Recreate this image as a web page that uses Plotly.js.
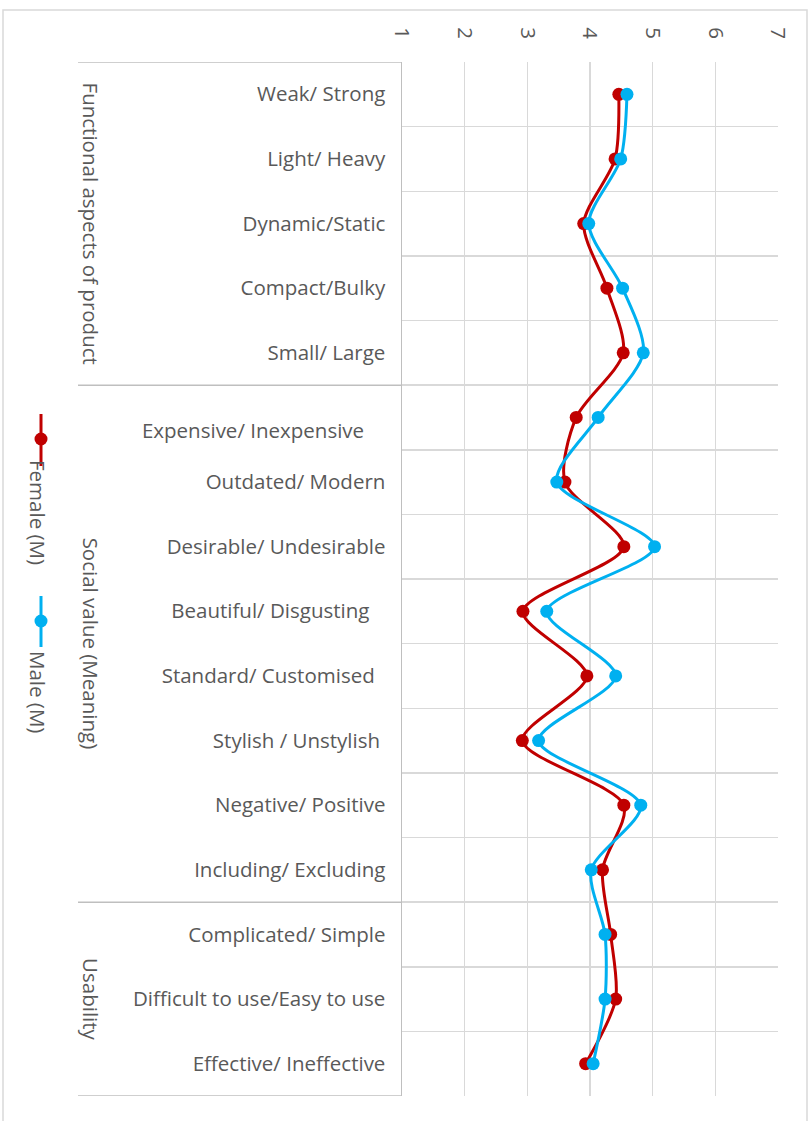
<!DOCTYPE html>
<html>
<head>
<meta charset="utf-8">
<script src="https://cdn.plot.ly/plotly-3.0.1.min.js"></script>
<style>
  html, body { margin: 0; padding: 0; background: #ffffff; }
  #chart { width: 810px; height: 1121px; }
</style>
</head>
<body>
<div id="chart"></div>
<script>
// ---- data ----
var categories = [
  "Weak/ Strong",
  "Light/ Heavy",
  "Dynamic/Static",
  "Compact/Bulky",
  "Small/ Large",
  "Expensive/ Inexpensive",
  "Outdated/ Modern",
  "Desirable/ Undesirable",
  "Beautiful/ Disgusting",
  "Standard/ Customised",
  "Stylish / Unstylish",
  "Negative/ Positive",
  "Including/ Excluding",
  "Complicated/ Simple",
  "Difficult to use/Easy to use",
  "Effective/ Ineffective"
];
var female = [4.46, 4.40, 3.90, 4.27, 4.53, 3.78, 3.60, 4.54, 2.93, 3.95, 2.92, 4.54, 4.20, 4.33, 4.41, 3.93];
var male   = [4.59, 4.49, 3.98, 4.52, 4.85, 4.13, 3.47, 5.03, 3.31, 4.41, 3.18, 4.81, 4.02, 4.24, 4.24, 4.05];
var groupNames = ["Functional aspects of product", "Social value (Meaning)", "Usability"];
var groupSizes = [5, 8, 3];
var xTicks = [1, 2, 3, 4, 5, 6, 7];
var seriesNames = ["Female (M)", "Male (M)"];

// ---- layout helpers (pixel geometry of the page) ----
var W = 810, H = 1121;
var M = {l: 402, r: 32, t: 62, b: 25};
var PW = W - M.l - M.r, PH = H - M.t - M.b;
function px(x) { return (x - M.l) / PW; }
function py(y) { return (H - M.b - y) / PH; }

// label padding as displayed in the original (trailing space / offset)
var tickText = categories.map(function (c) {
  if (c === "Expensive/ Inexpensive") return "<br>" + c + "\u00a0\u00a0\u00a0\u00a0";
  if (c === "Beautiful/ Disgusting") return c + "\u00a0\u00a0\u00a0";
  if (c === "Standard/ Customised") return c + "\u00a0\u00a0";
  if (c === "Stylish / Unstylish") return c + "\u00a0";
  return c;
});

var RED = "#C00000", BLUE = "#00B0F0", TXT = "#595959", GRID = "#D9D9D9", SEP = "#BFBFBF";
var FONT = "'Open Sans', Lato, sans-serif";
var FS = 20.5;

var traces = [
  {
    type: "scatter", mode: "lines+markers", name: seriesNames[0],
    x: female, y: categories,
    line: {color: RED, width: 3, shape: "spline", smoothing: 0.8},
    marker: {color: RED, size: 13}
  },
  {
    type: "scatter", mode: "lines+markers", name: seriesNames[1],
    x: male, y: categories,
    line: {color: BLUE, width: 3, shape: "spline", smoothing: 0.8},
    marker: {color: BLUE, size: 13}
  }
];

var shapes = [];
var annotations = [];

// outer chart border
shapes.push({type: "rect", xref: "paper", yref: "paper",
  x0: px(3), x1: px(807), y0: py(1130), y1: py(10),
  line: {color: GRID, width: 1.5}, fillcolor: "rgba(0,0,0,0)", layer: "below"});

// group separators and labels
var start = 0;
var bounds = [-0.5];
for (var g = 0; g < groupSizes.length; g++) {
  var end = start + groupSizes[g];
  bounds.push(end - 0.5);
  annotations.push({
    xref: "paper", yref: "y", x: px(91), y: (start - 0.5 + end - 0.5) / 2,
    text: groupNames[g], textangle: 90, showarrow: false,
    xanchor: "center", yanchor: "middle",
    font: {family: FONT, size: FS, color: TXT}
  });
  start = end;
}
bounds.forEach(function (b) {
  shapes.push({type: "line", xref: "paper", yref: "y",
    x0: px(78), x1: 0, y0: b, y1: b,
    line: {color: SEP, width: 1.5}});
});

// legend (rotated like the original)
var legendY = [[414, 466, 439, 512], [596, 647, 621, 692]];
var colors = [RED, BLUE];
for (var i = 0; i < 2; i++) {
  shapes.push({type: "line", xref: "paper", yref: "paper",
    x0: px(41), x1: px(41), y0: py(legendY[i][0]), y1: py(legendY[i][1]),
    line: {color: colors[i], width: 3}});
  shapes.push({type: "circle", xref: "paper", yref: "paper",
    xsizemode: "pixel", ysizemode: "pixel",
    xanchor: px(41), yanchor: py(legendY[i][2]),
    x0: -6.5, x1: 6.5, y0: -6.5, y1: 6.5,
    fillcolor: colors[i], line: {color: colors[i], width: 0}});
  annotations.push({
    xref: "paper", yref: "paper", x: px(38), y: py(legendY[i][3]),
    text: seriesNames[i], textangle: 90, showarrow: false,
    xanchor: "center", yanchor: "middle",
    font: {family: FONT, size: FS, color: TXT}
  });
}

var layout = {
  width: W, height: H,
  margin: M,
  paper_bgcolor: "#ffffff", plot_bgcolor: "#ffffff",
  showlegend: false,
  font: {family: FONT, color: TXT, size: FS},
  xaxis: {
    side: "top", range: [1, 7], autorange: false,
    tickvals: xTicks, ticktext: xTicks.map(String),
    tickangle: 90, showgrid: true, gridcolor: GRID, gridwidth: 1.5,
    zeroline: false, showline: false, ticks: "", ticklabelstandoff: 19,
    tickfont: {family: FONT, size: FS, color: TXT}, fixedrange: true
  },
  yaxis: {
    type: "category", categoryorder: "array", categoryarray: categories,
    tickvals: categories, ticktext: tickText,
    autorange: false, range: [categories.length - 0.5, -0.5], tickson: "boundaries",
    showgrid: true, gridcolor: GRID, gridwidth: 1.5,
    showline: true, linecolor: SEP, linewidth: 1.5, mirror: false,
    ticks: "", ticklabelstandoff: 11, zeroline: false,
    tickfont: {family: FONT, size: FS, color: TXT}, fixedrange: true
  },
  shapes: shapes,
  annotations: annotations
};

Plotly.newPlot("chart", traces, layout, {displayModeBar: false, staticPlot: true});
</script>
</body>
</html>
